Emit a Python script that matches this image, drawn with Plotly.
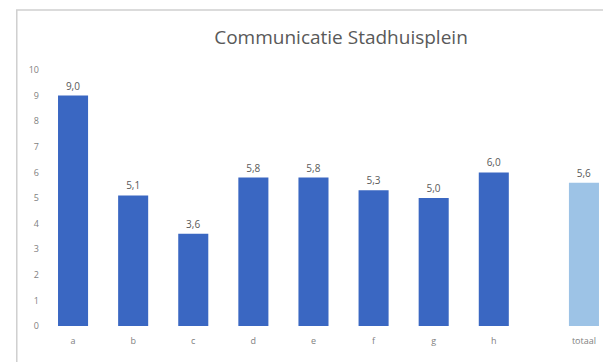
import plotly.graph_objects as go

# Gegevens
categorieen = ['a', 'b', 'c', 'd', 'e', 'f', 'g', 'h', 'totaal']
scores = [9.0, 5.1, 3.6, 5.8, 5.8, 5.3, 5.0, 6.0, 5.6]
kleuren = ['#3a67c2'] * 8 + ['#9dc3e6']

# totaal staat iets verder weg van de rest
x_pos = list(range(len(categorieen) - 1)) + [len(categorieen) - 0.5]

# labels met komma als decimaalteken
labels = [f"{v:.1f}".replace('.', ',') for v in scores]

fig = go.Figure(
    go.Bar(
        x=x_pos,
        y=scores,
        width=0.5,
        marker=dict(color=kleuren, line=dict(width=0)),
        text=labels,
        textposition='outside',
        textfont=dict(size=10, color='#595959'),
        cliponaxis=False,
    )
)

fig.update_layout(
    title=dict(
        text="Communicatie Stadhuisplein",
        x=0.545, xanchor='center', y=0.92, yanchor='middle',
        font=dict(size=19, color='#595959'),
    ),
    width=611,
    height=362,
    margin=dict(l=38, r=11, t=62, b=44),
    paper_bgcolor='white',
    plot_bgcolor='white',
    font=dict(family="Open Sans", size=9, color='#595959'),
    showlegend=False,
    xaxis=dict(
        range=[-0.45, 8.9],
        tickvals=x_pos,
        ticktext=categorieen,
        showgrid=False,
        zeroline=False,
        showline=False,
        ticks='',
        ticklabelstandoff=8,
        tickfont=dict(size=9, color='#7f7f7f'),
    ),
    yaxis=dict(
        range=[0, 10],
        dtick=1,
        showgrid=False,
        zeroline=False,
        showline=False,
        ticks='',
        ticklabelstandoff=6,
        tickfont=dict(size=9, color='#7f7f7f'),
    ),
)

# lichte rand om de hele grafiek
fig.add_shape(
    type='rect', xref='paper', yref='paper',
    x0=-0.052, x1=1.006, y0=-0.145, y1=1.234,
    line=dict(color='#d0d0d0', width=1.5),
    fillcolor='rgba(0,0,0,0)', layer='above',
)

fig.write_html("out.html")
